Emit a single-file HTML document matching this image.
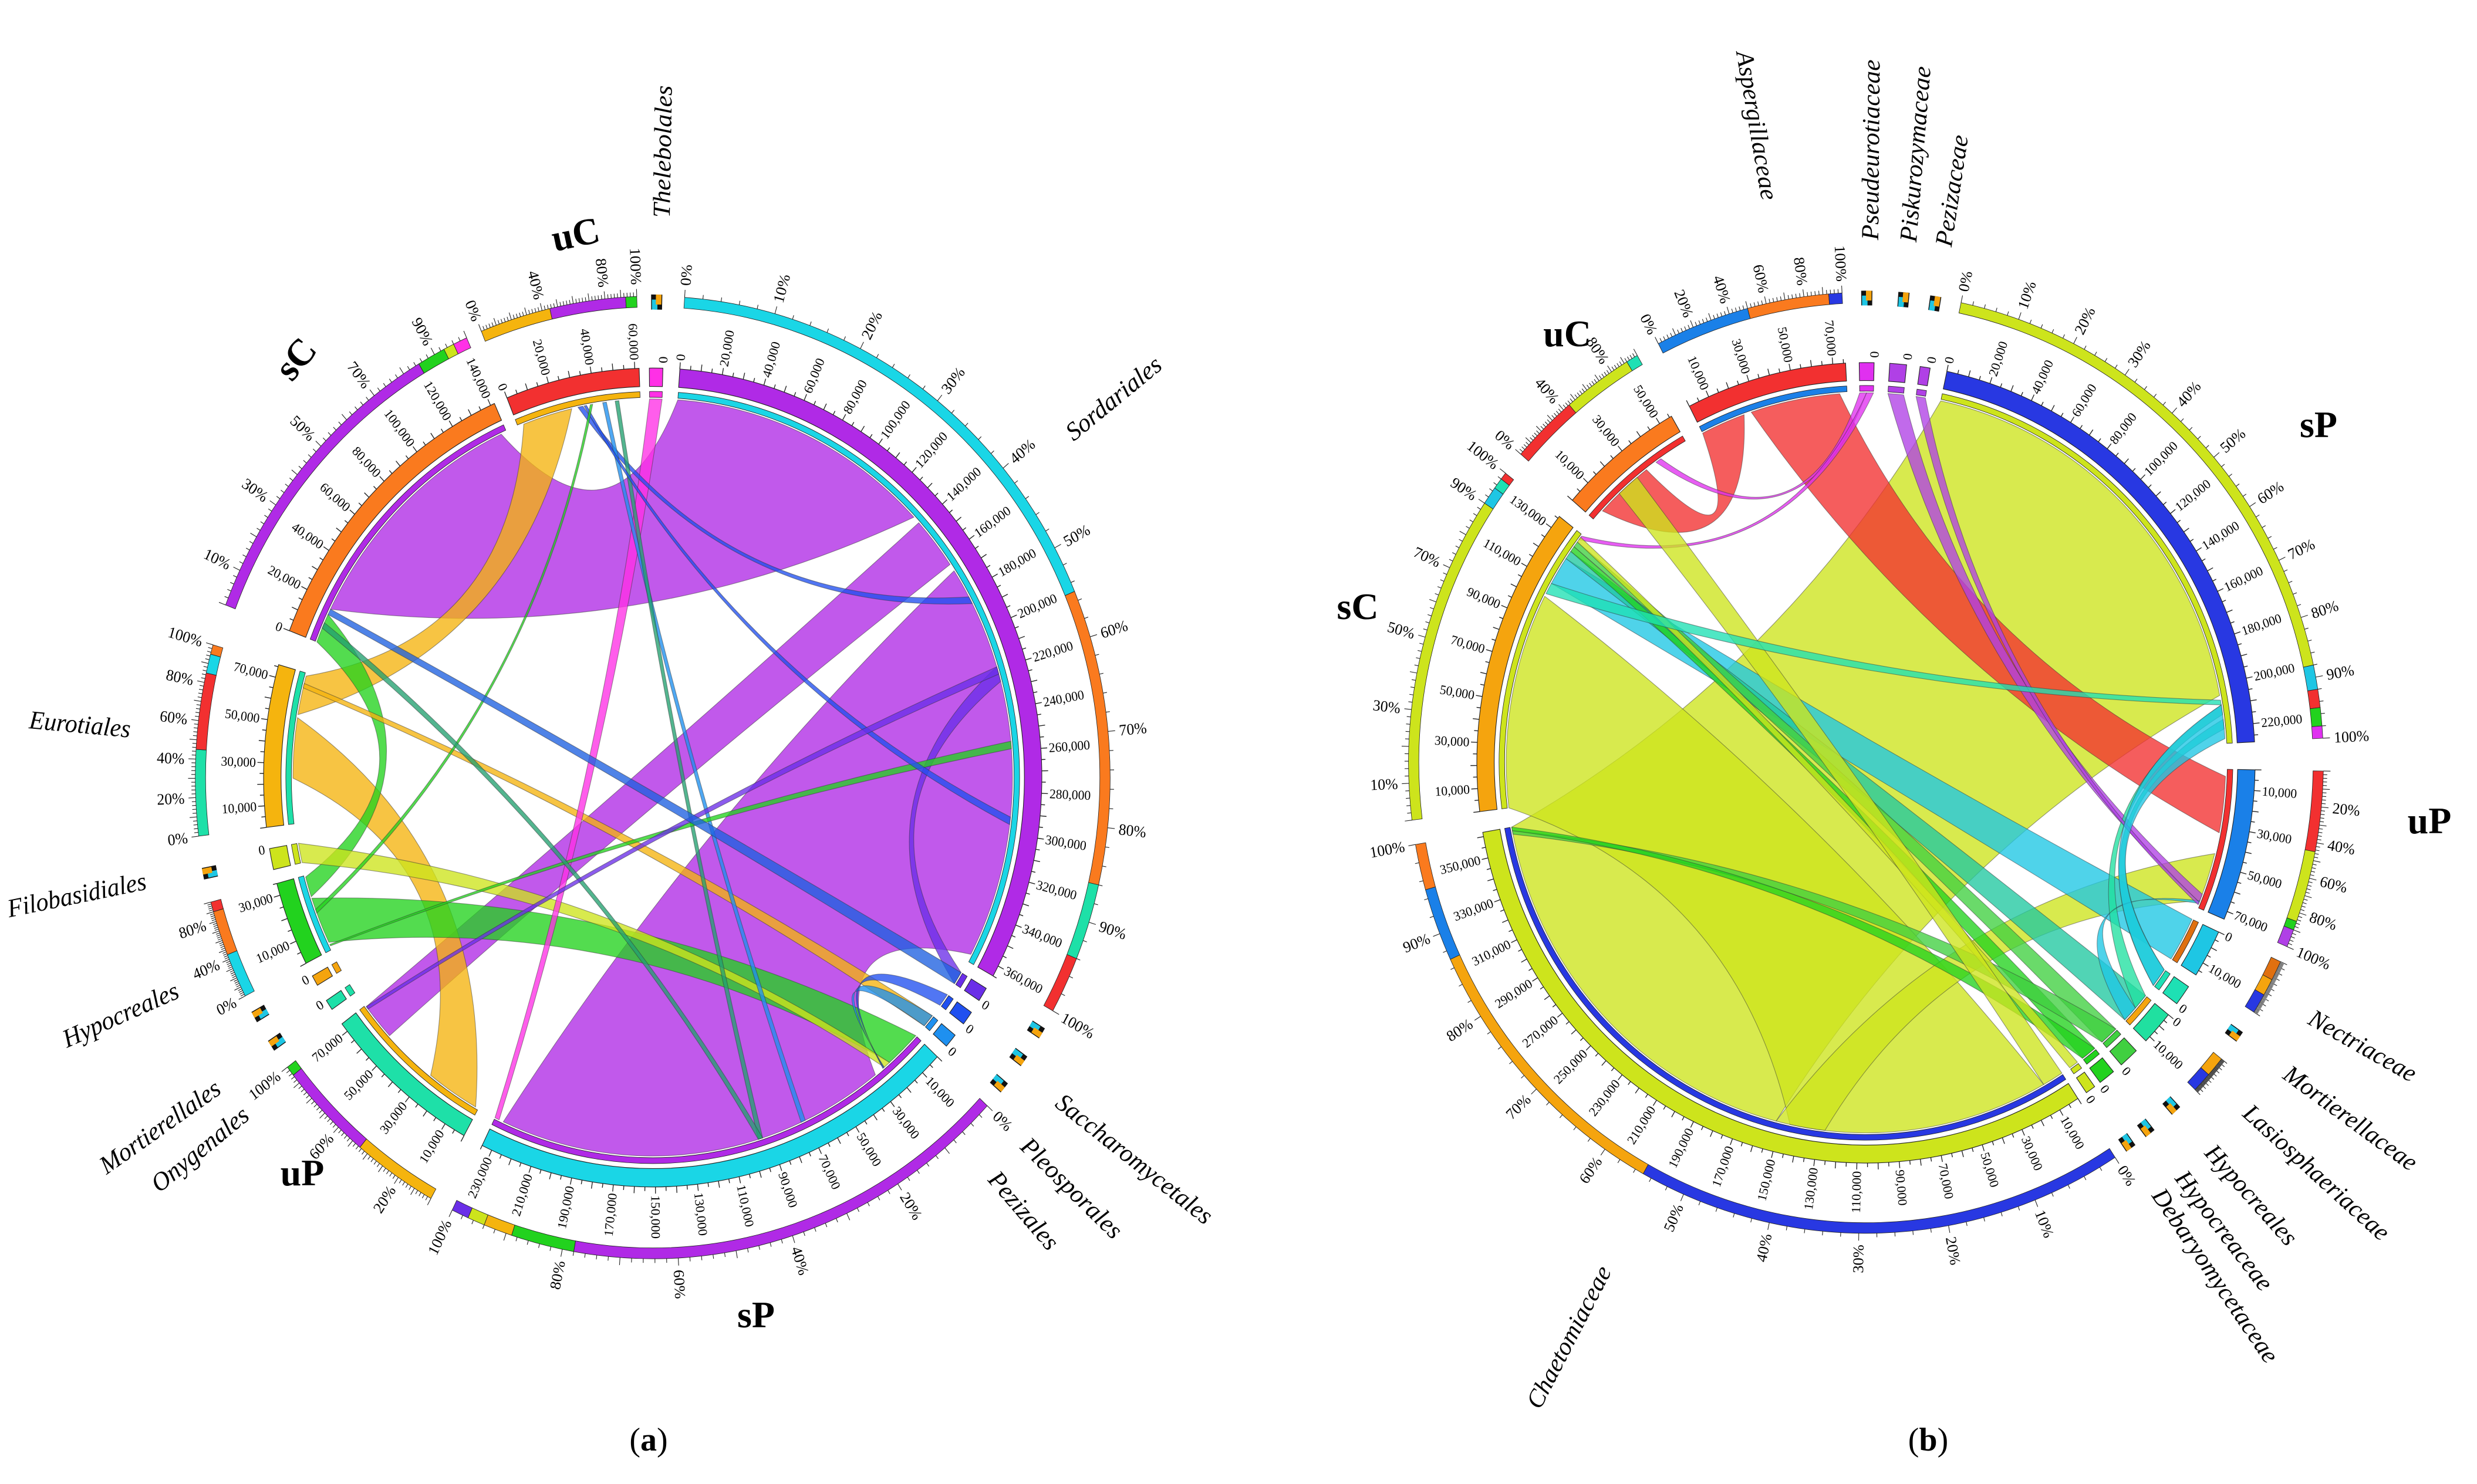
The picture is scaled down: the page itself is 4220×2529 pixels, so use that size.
<!DOCTYPE html>
<html><head><meta charset="utf-8">
<style>
html,body{margin:0;padding:0;background:#fff;}
svg{display:block;font-family:"Liberation Serif",serif;}
</style></head>
<body>
<svg id="root" width="4220" height="2529" viewBox="0 0 4220 2529" xmlns="http://www.w3.org/2000/svg">
<g id="chartA"></g>
<g id="chartB"></g>
<text x="1105" y="2472" font-size="56" text-anchor="middle">(<tspan font-weight="bold">a</tspan>)</text>
<text x="3285" y="2472" font-size="56" text-anchor="middle">(<tspan font-weight="bold">b</tspan>)</text>
</svg>
<script>
// ---------- Chart A data ----------
const aNames   = ['Sordariales','Sacch1','Sacch2','Sacch3','sP','uP','Onygenales','Mortierellales','Hypocreales','Filobasidiales','Eurotiales','sC','uC','Thelebolales'];
const aStart   = [4,121,125,129,133,209,235.5,239.5,243,257,263,291,338,359.5];
const aEnd     = [119,123,127,131,206,233,237,241,255,260,286,336,358,361.5];
const aTotals  = [365000,0,0,0,235000,74000,0,0,35000,0,76000,142000,62000,0];
const aTickStep= [20000,0,0,0,20000,20000,0,0,20000,0,20000,20000,20000,0];
const aTickFirst=[0,0,0,0,10000,10000,0,0,10000,0,10000,0,0,0];
const aColors  = ['#b02ae6','#6a2ee8','#2050f0','#1e90f0','#1ad6e6','#1ee0a8','#1ee0a8','#f5a40e','#22d21e','#cde41c','#f5b40e','#fa7a1e','#f23030','#ff30e6'];
const aOuter = [
 [[0,.55,'#1ad6e6'],[.55,.86,'#fa7a1e'],[.86,.94,'#1ee0a8'],[.94,1,'#f23030']],
 [],[],[],
 [[0,.78,'#b02ae6'],[.78,.89,'#22d21e'],[.89,.94,'#f5b40e'],[.94,.97,'#cde41c'],[.97,1,'#6a2ee8']],
 [[0,.45,'#f5b40e'],[.45,.95,'#b02ae6'],[.95,1,'#22d21e']],
 [],[],
 [[0,.45,'#1ad6e6'],[.45,.9,'#fa7a1e'],[.9,1,'#f23030']],
 [],
 [[0,.45,'#1ee0a8'],[.45,.85,'#f23030'],[.85,.95,'#1ad6e6'],[.95,1,'#fa7a1e']],
 [[0,.85,'#b02ae6'],[.85,.93,'#22d21e'],[.93,.96,'#cde41c'],[.96,1,'#ff30e6']],
 [[0,.45,'#f5b40e'],[.45,.93,'#b02ae6'],[.93,1,'#22d21e']],
 []
];
const aPct = [[0,10,20,30,40,50,60,70,80,90,100],[],[],[],[0,20,40,60,80,100],[20,60,100],[],[],[0,40,80],[],[0,20,40,60,80,100],[10,30,50,70,90],[0,40,80,100],[]];
const aLabels = {Sordariales:[52,665],Saccharomycetales:[127,640],Pleosporales:[133,640],Pezizales:[138,640],Onygenales:[232,650],Mortierellales:[236,660],Hypocreales:[247,650],Filobasidiales:[259,650],Eurotiales:[275,660],Thelebolales:[1,670]};
const aRibSrc = [11,0,0,10,10,8,8,9,10,13,12,12,12,3,2,1,8,12,12,11,5,11];
const aRibS0  = [.12,.46,.38,.3,.72,.1,.72,0,.9,0,.5,.7,.8,0,0,0,.05,.55,.6,.05,.97,.1];
const aRibS1  = [.98,.99,.45,.7,.98,.7,.98,1,.93,1,.54,.73,.83,1,1,1,.07,.57,.62,.07,.99,.12];
const aRibTgt = [0,4,5,5,12,4,11,4,3,4,0,4,4,4,4,0,0,0,8,4,0,1];
const aRibT0  = [.0,.12,.75,.02,.05,.0,.0,.08,.0,.99,.5,.3,.4,.095,.097,.6,.7,.8,.5,.4,.6,0];
const aRibT1  = [.37,.98,.99,.38,.45,.08,.1,.095,1,1,.51,.31,.41,.097,.099,.62,.71,.81,.55,.41,.61,1];
const aRibCol = ['#b02ae6','#b02ae6','#b02ae6','#f5b40e','#f5b40e','#22d21e','#22d21e','#cde41c','#f5b40e','#ff30e6','#2050f0','#1e90f0','#22a070','#1e90f0','#2050f0','#6a2ee8','#22d21e','#2050f0','#22d21e','#22a070','#6a2ee8','#1e60e0'];

// ---------- Chart B data ----------
const bNames   = ['sP','uP','Nectriaceae','Mortierellaceae','Lasiosphaeriaceae','Hypocreales','Hypocreaceae','Debaryomycetaceae','Chaetomiaceae','sC','uC','Aspergillaceae','Pseudeurotiaceae','Piskurozymaceae','Pezizaceae'];
const bStart   = [12,91,115,124,129,136,140.5,144,147,263,311,333,359,3.5,8];
const bEnd     = [87,113,122,127,134,139,143,145.5,260,308,330,357,361.2,6,9.5];
const bTotals  = [228000,74000,14000,0,12000,0,0,0,362000,136000,56000,76000,0,0,0];
const bTickStep= [20000,20000,10000,0,10000,0,0,0,20000,20000,20000,20000,0,0,0];
const bTickFirst=[0,10000,0,0,0,0,0,0,10000,10000,10000,10000,0,0,0];
const bColors  = ['#2838e2','#1a80e8','#1ec6e4','#1ee0b4','#20e0a0','#40d040','#22d21e','#cde41c','#cde41c','#f5a40e','#fa7a1e','#f23030','#e030f0','#b040e6','#b040e6'];
const bOuter = [
 [[0,.88,'#cde41c'],[.88,.92,'#1ec6e4'],[.92,.95,'#f23030'],[.95,.98,'#22d21e'],[.98,1,'#e030f0']],
 [[0,.45,'#f23030'],[.45,.85,'#cde41c'],[.85,.9,'#22d21e'],[.9,1,'#b040e6']],
 [[0,.35,'#e07010'],[.35,.65,'#f5a40e'],[.65,1,'#2838e2']],
 [],[[0,.5,'#f5a40e'],[.5,1,'#2838e2']],[],[],[],
 [[0,.55,'#2838e2'],[.55,.87,'#f5a40e'],[.87,.95,'#1a80e8'],[.95,1,'#fa7a1e']],
 [[0,.9,'#cde41c'],[.9,.95,'#1ec6e4'],[.95,.98,'#1ee0b4'],[.98,1,'#f23030']],
 [[0,.45,'#f23030'],[.45,.92,'#cde41c'],[.92,1,'#1ee0b4']],
 [[0,.5,'#1a80e8'],[.5,.93,'#fa7a1e'],[.93,1,'#2838e2']],
 [],[],[]
];
const bPct = [[0,10,20,30,40,50,60,70,80,90,100],[20,40,60,80,100],[],[],[],[],[],[],[0,10,20,30,40,50,60,70,80,90,100],[10,30,50,70,90,100],[0,40,80],[0,20,40,60,80,100],[],[],[]];
const bLabels = {Nectriaceae:[119,640],Mortierellaceae:[125.5,650],Lasiosphaeriaceae:[131.5,640],Hypocreales:[137.5,640],Hypocreaceae:[141.8,640],Debaryomycetaceae:[145,640],Chaetomiaceae:[208,700],Aspergillaceae:[350,700],Pseudeurotiaceae:[0.5,640],Piskurozymaceae:[4.8,640],Pezizaceae:[8.8,640]};
const bRibSrc = [0,9,1,11,11,9,9,9,9,12,13,12,3,4,4,5,6,9,10,14,9,0];
const bRibS0  = [.0,.0,.6,.0,.35,.8,.9,.93,.95,.0,.0,.5,.0,.0,.5,0,0,.97,.3,0,.76,.92];
const bRibS1  = [.9,.75,.95,.3,.95,.9,.93,.95,.97,.5,1,1,1,.5,1,1,1,.99,.5,1,.8,.99];
const bRibTgt = [8,8,8,10,1,2,4,6,5,10,1,9,0,0,1,8,8,7,8,1,0,3];
const bRibT0  = [.42,.03,.35,.1,.05,0,0,0,0,.7,.9,.98,.95,.92,.95,.99,.995,0,0,.96,.91,0];
const bRibT1  = [1,.4,.42,.6,.45,1,1,1,1,.75,.96,.995,.97,.94,.97,.995,1,1,.03,.98,.92,1];
const bRibCol = ['#cde41c','#cde41c','#cde41c','#f23030','#f23030','#1ec6e4','#20c8a0','#22d21e','#40d040','#e030f0','#b040e6','#e030f0','#1ee0b4','#20e0a0','#1ec6e4','#40d040','#22d21e','#cde41c','#cde41c','#b040e6','#1ee0b4','#1ec6e4'];

const NS='http://www.w3.org/2000/svg';
function P(r,a){const t=a*Math.PI/180;return [r*Math.sin(t),-r*Math.cos(t)];}
function mk(tag,attrs,parent){const e=document.createElementNS(NS,tag);for(const k in attrs)e.setAttribute(k,attrs[k]);parent.appendChild(e);return e;}
function annulus(r1,r2,a0,a1){
  const p1=P(r2,a0),p2=P(r2,a1),p3=P(r1,a1),p4=P(r1,a0);const lg=(a1-a0)>180?1:0;
  return `M${p1[0]},${p1[1]} A${r2},${r2} 0 ${lg} 1 ${p2[0]},${p2[1]} L${p3[0]},${p3[1]} A${r1},${r1} 0 ${lg} 0 ${p4[0]},${p4[1]} Z`;
}
function radialText(g,r,a,txt,size,extra){
  const p=P(r,a);let rot,anchor;const aa=((a%360)+360)%360;
  if(aa<180){rot=aa-90;anchor='start';}else{rot=aa+90;anchor='end';}
  const t=mk('text',Object.assign({transform:`translate(${p[0]},${p[1]}) rotate(${rot})`,'font-size':size,'text-anchor':anchor,'dominant-baseline':'central'},extra||{}),g);
  t.textContent=txt;return t;
}
function fmt(v){return v.toLocaleString('en-US');}
function draw(root,cfg,names,st,en,tot,step,first,cols,outer,pct,labels,rs,rs0,rs1,rt,rt0,rt1,rc){
  const g=mk('g',{transform:`translate(${cfg.cx},${cfg.cy}) scale(1.353,${cfg.sy})`},root);
  const rib=mk('g',{},g);
  
  
  const ang=(i,f)=>st[i]+f*(en[i]-st[i]);
  const R=453;
  for(let k=0;k<rs.length;k++){
    const s0=ang(rs[k],rs0[k]),s1=ang(rs[k],rs1[k]),t0=ang(rt[k],rt0[k]),t1=ang(rt[k],rt1[k]);
    const A=P(R,s0),B=P(R,s1),C=P(R,t0),D=P(R,t1);
    const f=0.3;
    const c1=[(B[0]+C[0])*f,(B[1]+C[1])*f],c2=[(D[0]+A[0])*f,(D[1]+A[1])*f];
    const l1=(s1-s0)>180?1:0,l2=(t1-t0)>180?1:0;
    const d=`M${A[0]},${A[1]} A${R},${R} 0 ${l1} 1 ${B[0]},${B[1]} Q${c1[0]},${c1[1]} ${C[0]},${C[1]} A${R},${R} 0 ${l2} 1 ${D[0]},${D[1]} Q${c2[0]},${c2[1]} ${A[0]},${A[1]} Z`;
    const p=mk('path',{d:d,fill:rc[k],'fill-opacity':0.78,stroke:'#333','stroke-opacity':0.5,'stroke-width':0.8},rib);
    
    
  }
  for(let i=0;i<names.length;i++){
    const sg=mk('g',{},g);
    
    
    const a0=st[i],a1=en[i];
    mk('path',{d:annulus(455,462,a0,a1),fill:(outer[i][0]?outer[i][0][2]:cols[i]),stroke:'#222','stroke-width':0.6},sg);
    mk('path',{d:annulus(468,490,a0,a1),fill:cols[i],stroke:'#222','stroke-width':0.8},sg);
    if(tot[i]>0){
      for(let v=0;v<=tot[i];v+=step[i]/4){const a=a0+v/tot[i]*(a1-a0);const p1=P(490,a),p2=P(v%(step[i]/2)===0?498:495,a);
        mk('line',{x1:p1[0],y1:p1[1],x2:p2[0],y2:p2[1],stroke:'#222','stroke-width':1},sg);}
      for(let v=first[i];v<=tot[i];v+=step[i]){const a=a0+v/tot[i]*(a1-a0);radialText(sg,500,a,fmt(v),16);}
    } else {
      radialText(sg,496,a1,'0',16);
    }
    if(outer[i].length){
      for(const s of outer[i]){mk('path',{d:annulus(563,576,a0+s[0]*(a1-a0),a0+s[1]*(a1-a0)),fill:s[2],stroke:'#222','stroke-width':0.6},sg);}
      for(let q=0;q<=50;q++){const a=a0+q/50*(a1-a0);const p1=P(576,a),p2=P(q%5===0?585:581,a);
        mk('line',{x1:p1[0],y1:p1[1],x2:p2[0],y2:p2[1],stroke:'#222','stroke-width':0.8},sg);}
      for(const pv of pct[i]){radialText(sg,590,a0+pv/100*(a1-a0),pv+'%',19);}
    } else {
      const m=(a0+a1)/2;
      mk('path',{d:annulus(560,578,m-0.7,m+0.7),fill:'#111'},sg);
      mk('path',{d:annulus(560,572,m-0.6,m+0.1),fill:'#1ec6e4'},sg);
      mk('path',{d:annulus(566,578,m-0.1,m+0.6),fill:'#f5a40e'},sg);
    }
  }
  for(const n in labels){
    const l=radialText(g,labels[n][1],labels[n][0],n,31,{'font-style':'italic'});
    
    
  }
  return g;
}
draw(document.getElementById('chartA'),{cx:1112,cy:1325,sy:1.424},aNames,aStart,aEnd,aTotals,aTickStep,aTickFirst,aColors,aOuter,aPct,aLabels,aRibSrc,aRibS0,aRibS1,aRibTgt,aRibT0,aRibT1,aRibCol);
draw(document.getElementById('chartB'),{cx:3179,cy:1300,sy:1.392},bNames,bStart,bEnd,bTotals,bTickStep,bTickFirst,bColors,bOuter,bPct,bLabels,bRibSrc,bRibS0,bRibS1,bRibTgt,bRibT0,bRibT1,bRibCol);
const titles=[['uC',985,420,-12],['sC',520,625,-50],['uP',515,2020,0],['sP',1288,2262,0],['uC',2670,590,0],['sC',2313,1055,0],['sP',3950,745,0],['uP',4139,1420,0]];
const root=document.getElementById('root');
for(const t of titles){
  const e=mk('text',{x:t[1],y:t[2],'font-size':64,'font-weight':'bold','text-anchor':'middle',transform:`rotate(${t[3]},${t[1]},${t[2]})`},root);
  e.textContent=t[0];
  
  
}
</script>
</body></html>
